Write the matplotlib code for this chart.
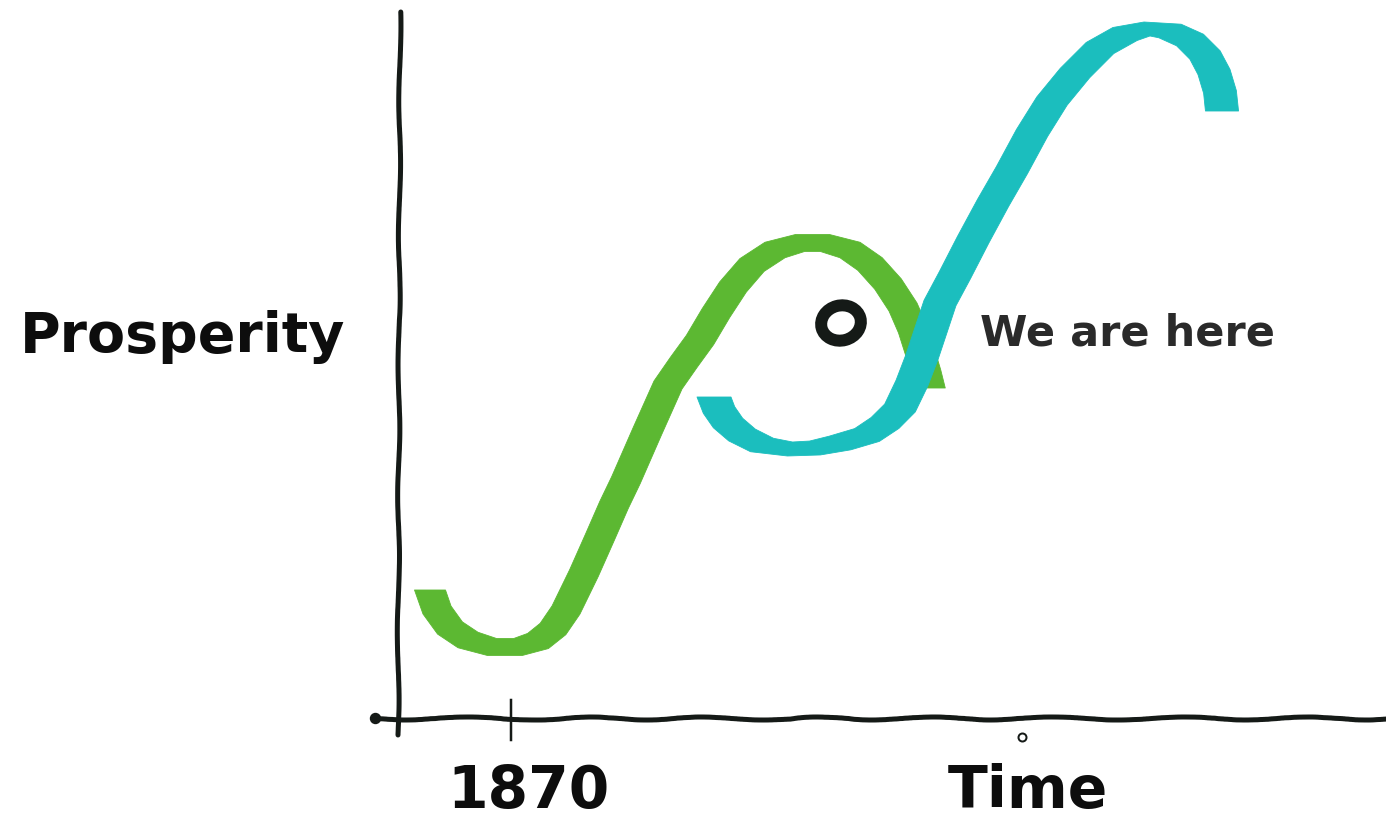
import numpy as np
import matplotlib
matplotlib.use("Agg")
import matplotlib.pyplot as plt
from matplotlib.patches import Ellipse

# ---- data (time units from axis origin, prosperity units) ----
green_t = [32, 39, 52, 70, 94, 120, 140, 155, 168, 186, 202, 216, 228, 249, 270, 286,
           302, 318, 335, 354, 377, 402, 427, 452, 472, 490, 505, 515, 522, 528, 532]
green_p = [128, 108, 90, 78, 71, 71, 77, 89, 108, 145, 181, 213, 238, 286, 333, 356,
           378, 405, 431, 453, 468, 475, 475, 468, 454, 434, 411, 388, 366, 346, 330]

teal_t = [316, 321, 330, 344, 364, 392, 417, 442, 469, 487, 502, 514, 524, 533, 542,
          557, 575, 595, 614, 634, 654, 677, 702, 727, 749, 772, 792, 807, 816, 822, 824]
teal_p = [321, 308, 295, 283, 273, 269, 270, 275, 283, 295, 310, 335, 361, 388, 415,
          443, 478, 515, 548, 585, 617, 645, 670, 684, 689, 687, 678, 663, 646, 626, 607]

here_t, here_p = 443, 395          # "We are here" marker
tick_1870 = 113
tick_time = 624
ylabel = "Prosperity"
xlabel = "Time"
tick_label = "1870"
here_label = "We are here"

GREEN = "#5cb832"
TEAL = "#1bbebe"
INK = "#151a17"
FONT = "DejaVu Sans"

fig = plt.figure(figsize=(13.86, 8.22), dpi=100)
ax = fig.add_axes([0, 0, 1, 1])
ax.set_xlim(-398, 988)
ax.set_ylim(-104, 718)
ax.axis("off")

PX = 72 / 100.0  # points per pixel


def ribbon(t, p, color, width_px, nib_px, z):
    """Flat-nib stroke outline: curve swept by a horizontal nib and a round pen."""
    t = np.asarray(t, float)
    p = np.asarray(p, float)
    dt = np.gradient(t)
    dp = np.gradient(p)
    ln = np.hypot(dt, dp)
    nx, ny = -dp / ln, dt / ln
    s = np.clip(nx * 4, -1, 1)
    ox = width_px / 2 * nx + nib_px / 2 * s
    oy = width_px / 2 * ny
    # flat (horizontal) cuts at both ends of the stroke
    for i in (0, -1):
        half = nib_px / 2 + (width_px / 2) / max(abs(dp[i] / ln[i]), 0.3)
        ox[i] = np.sign(nx[i]) * half
        oy[i] = 0.0
    xs = np.concatenate([t + ox, (t - ox)[::-1]])
    ys = np.concatenate([p + oy, (p - oy)[::-1]])
    ax.fill(xs, ys, color=color, lw=0.6, ec=color, joinstyle="round", zorder=z)


ribbon(green_t, green_p, GREEN, 17, 13, 2)
ribbon(teal_t, teal_p, TEAL, 14, 19, 3)

# hand-drawn axes
yl, = ax.plot([0, 2], [-17, 706], color=INK, lw=5 * PX, solid_capstyle="round", zorder=4)
yl.set_sketch_params(scale=1.0, length=150, randomness=2)
xl, = ax.plot([-23, 988], [0, 0], color=INK, lw=5 * PX, solid_capstyle="round", zorder=4)
xl.set_sketch_params(scale=1.5, length=150, randomness=3)
ax.plot([-23], [0], "o", color=INK, ms=10 * PX, zorder=4)
ax.plot([tick_1870, tick_1870], [18, -22], color=INK, lw=2.5 * PX, zorder=4)
ax.plot([tick_time], [-19], "o", mfc="white", mec=INK, mew=2 * PX, ms=8 * PX, zorder=4)

# "we are here" ring
ax.add_patch(Ellipse((here_t, here_p), 40, 35, angle=15, fill=False,
                     ec=INK, lw=12 * PX, zorder=5))

ax.text(-378, 366, ylabel, fontsize=40, fontweight="bold", family=FONT,
        color="#0d0d0d", ha="left", va="baseline")
ax.text(582, 373, here_label, fontsize=31, fontweight="bold", family=FONT,
        color="#2a2a2a", ha="left", va="baseline")
ax.text(49, -102, tick_label, fontsize=42, fontweight="bold", family=FONT,
        color="#0d0d0d", ha="left", va="bottom")
ax.text(550, -102, xlabel, fontsize=42, fontweight="bold", family=FONT,
        color="#0d0d0d", ha="left", va="bottom")

fig.savefig("out.png", dpi=100)
